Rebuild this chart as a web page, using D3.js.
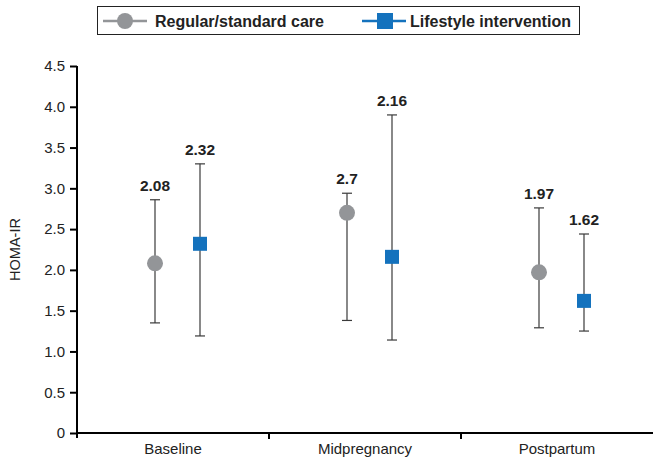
<!DOCTYPE html>
<html>
<head>
<meta charset="utf-8">
<script src="https://cdn.jsdelivr.net/npm/d3@7"></script>
<style>
  body { margin: 0; background: #fff; }
  svg { font-family: "Liberation Sans", Arial, sans-serif; }
</style>
</head>
<body>
<div id="chart"></div>
<script>
// Data
const periods = ['Baseline', 'Midpregnancy', 'Postpartum'];
const regularMean = [2.08, 2.7, 1.97];
const regularLow = [1.35, 1.38, 1.29];
const regularHigh = [2.86, 2.94, 2.76];
const lifestyleMean = [2.32, 2.16, 1.62];
const lifestyleLow = [1.19, 1.14, 1.25];
const lifestyleHigh = [3.30, 3.90, 2.44];
const yTicks = [0, 0.5, 1.0, 1.5, 2.0, 2.5, 3.0, 3.5, 4.0, 4.5];

const width = 653, height = 462;
const margin = { top: 66, right: 0, bottom: 29, left: 77 };
const font = '"Liberation Sans", Arial, sans-serif';

const svg = d3.select('#chart').append('svg')
  .attr('width', width)
  .attr('height', height);

const x = d3.scaleBand()
  .domain(periods)
  .range([margin.left, width - margin.right]);

const y = d3.scaleLinear()
  .domain([0, 4.5])
  .range([height - margin.bottom, margin.top]);

const series = [
  { name: 'Regular/standard care', mean: regularMean, low: regularLow, high: regularHigh, shift: -18, color: '#939598', shape: 'circle' },
  { name: 'Lifestyle intervention', mean: lifestyleMean, low: lifestyleLow, high: lifestyleHigh, shift: 27, color: '#1472bd', shape: 'square' }
];

// Y axis
const yAxis = svg.append('g')
  .attr('transform', `translate(${margin.left},0)`)
  .call(d3.axisLeft(y).tickValues(yTicks).tickSize(7)
    .tickFormat(d => d === 0 ? '0' : d3.format('.1f')(d)));
yAxis.select('.domain').attr('stroke', '#000').attr('stroke-width', 2)
  .attr('d', `M0,${margin.top}V${height - margin.bottom + 5}`);
yAxis.selectAll('.tick line').attr('stroke', '#000').attr('stroke-width', 2);
yAxis.selectAll('.tick text').attr('font-size', 15).attr('fill', '#222')
  .attr('font-family', font).attr('x', -12);

svg.append('text')
  .attr('transform', `translate(20,${y(2.25)}) rotate(-90)`)
  .attr('text-anchor', 'middle')
  .attr('font-size', 14.5)
  .attr('fill', '#222')
  .text('HOMA-IR');

// X axis
const xAxis = svg.append('g')
  .attr('transform', `translate(0,${y(0)})`)
  .call(d3.axisBottom(x).tickSize(0).tickPadding(10));
xAxis.select('.domain').attr('stroke', '#000').attr('stroke-width', 2)
  .attr('d', `M${margin.left},0H${width}`);
xAxis.selectAll('.tick text').attr('font-size', 15).attr('fill', '#222')
  .attr('font-family', font);
xAxis.selectAll('.sep')
  .data(periods.slice(1))
  .join('line')
  .attr('x1', d => x(d)).attr('x2', d => x(d))
  .attr('y1', 0).attr('y2', 6)
  .attr('stroke', '#000').attr('stroke-width', 2);

// Error bars, markers and labels
series.forEach(s => {
  const g = svg.append('g');
  const cx = i => x(periods[i]) + x.bandwidth() / 2 + s.shift;
  const idx = d3.range(periods.length);

  g.selectAll('.whisker').data(idx).join('line')
    .attr('x1', cx).attr('x2', cx)
    .attr('y1', i => y(s.low[i])).attr('y2', i => y(s.high[i]))
    .attr('stroke', '#3a3a3a').attr('stroke-width', 1.2);

  ['low', 'high'].forEach(k => {
    g.selectAll('.cap-' + k).data(idx).join('line')
      .attr('x1', i => cx(i) - 5).attr('x2', i => cx(i) + 5)
      .attr('y1', i => y(s[k][i])).attr('y2', i => y(s[k][i]))
      .attr('stroke', '#3a3a3a').attr('stroke-width', 1.2);
  });

  if (s.shape === 'circle') {
    g.selectAll('.mark').data(idx).join('circle')
      .attr('cx', cx).attr('cy', i => y(s.mean[i]))
      .attr('r', 8).attr('fill', s.color);
  } else {
    g.selectAll('.mark').data(idx).join('rect')
      .attr('x', i => cx(i) - 7).attr('y', i => y(s.mean[i]) - 7)
      .attr('width', 14).attr('height', 14).attr('fill', s.color);
  }

  g.selectAll('.val').data(idx).join('text')
    .attr('x', cx).attr('y', i => y(s.high[i]) - 9)
    .attr('text-anchor', 'middle')
    .attr('font-size', 15.5).attr('font-weight', 'bold').attr('fill', '#222')
    .text(i => s.mean[i]);
});

// Legend
const legend = svg.append('g');
legend.append('rect')
  .attr('x', 97.5).attr('y', 6.5).attr('width', 482).attr('height', 28)
  .attr('fill', '#fff').attr('stroke', '#222').attr('stroke-width', 1);
const legendX = [103, 362];
series.forEach((s, i) => {
  const lx = legendX[i], ly = 21;
  legend.append('line')
    .attr('x1', lx).attr('x2', lx + 44).attr('y1', ly).attr('y2', ly)
    .attr('stroke', s.color).attr('stroke-width', 2.5);
  if (s.shape === 'circle') {
    legend.append('circle').attr('cx', lx + 22).attr('cy', ly).attr('r', 8).attr('fill', s.color);
  } else {
    legend.append('rect').attr('x', lx + 15).attr('y', ly - 8)
      .attr('width', 16).attr('height', 16).attr('fill', s.color);
  }
  legend.append('text')
    .attr('x', lx + (i === 0 ? 52 : 48)).attr('y', ly + 5.5)
    .attr('font-size', 16).attr('font-weight', 'bold').attr('fill', '#222')
    .text(s.name);
});
</script>
</body>
</html>
